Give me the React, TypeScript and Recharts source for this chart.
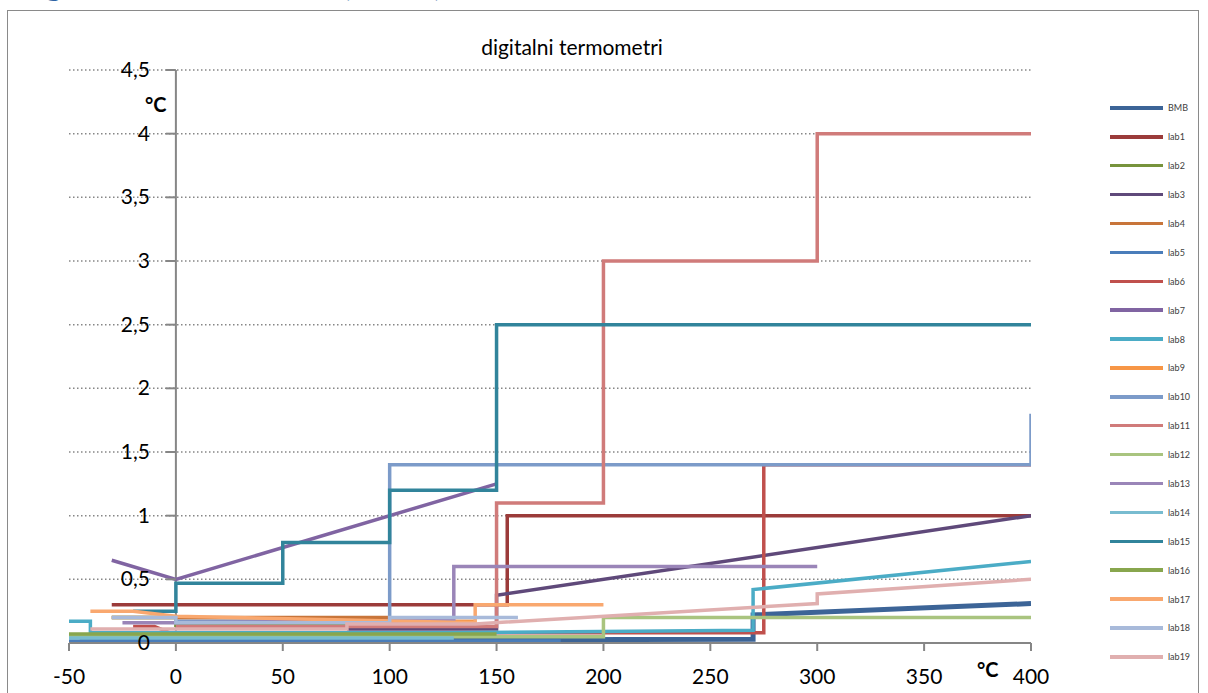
import React from 'react';
import { LineChart, Line, XAxis, YAxis, CartesianGrid, ReferenceLine } from 'recharts';

type P = [number, number];

const xTicks = [-50, 0, 50, 100, 150, 200, 250, 300, 350, 400];
const yTicks = [0, 0.5, 1, 1.5, 2, 2.5, 3, 3.5, 4, 4.5];

const seriesNames = ['BMB', 'lab1', 'lab2', 'lab3', 'lab4', 'lab5', 'lab6', 'lab7', 'lab8', 'lab9',
  'lab10', 'lab11', 'lab12', 'lab13', 'lab14', 'lab15', 'lab16', 'lab17', 'lab18', 'lab19'];

const seriesColors = ['#3C6497', '#9B3B3A', '#77933C', '#5F497A', '#C8753A', '#4A7DBA', '#C0504D', '#8064A2',
  '#4BACC6', '#F79646', '#7C9BC9', '#D07B7A', '#A9C47F', '#9A85B8', '#78BCD0', '#31849B', '#88A64E',
  '#F9A86F', '#A8BADA', '#E0AFAF'];

const bmb: P[] = [[-45, 0.02], [270, 0.03], [270, 0.22], [400, 0.31]];
const lab1: P[] = [[-30, 0.3], [155, 0.3], [155, 1], [400, 1]];
const lab2: P[] = [[-30, 0.2], [0, 0.2], [0, 0.14], [80, 0.14]];
const lab3: P[] = [[80, 0.11], [150, 0.11], [150, 0.375], [400, 1]];
const lab4: P[] = [[-30, 0.2], [100, 0.2]];
const lab5: P[] = [[-50, 0.015], [180, 0.015]];
const lab6: P[] = [[-20, 0.13], [-10, 0.13], [0, 0.06], [100, 0.08], [275, 0.08], [275, 1.4], [400, 1.4]];
const lab7: P[] = [[-30, 0.65], [0, 0.5], [150, 1.25]];
const lab8: P[] = [[-50, 0.17], [-40, 0.17], [-40, 0.08], [130, 0.08], [270, 0.1], [270, 0.42], [400, 0.64]];
const lab9: P[] = [[0, 0.17], [140, 0.17]];
const lab10: P[] = [[0, 0.17], [100, 0.17], [100, 1.4], [400, 1.4], [400, 1.8]];
const lab11: P[] = [[0, 0.13], [150, 0.13], [150, 1.1], [200, 1.1], [200, 3], [300, 3], [300, 4], [400, 4]];
const lab12: P[] = [[-50, 0.05], [200, 0.05], [200, 0.2], [400, 0.2]];
const lab13: P[] = [[-25, 0.16], [0, 0.16], [130, 0.18], [130, 0.6], [300, 0.6]];
const lab14: P[] = [[-50, 0.04], [130, 0.04]];
const lab15: P[] = [[-20, 0.25], [0, 0.25], [0, 0.47], [50, 0.47], [50, 0.79], [100, 0.79], [100, 1.2], [150, 1.2], [150, 2.5], [400, 2.5]];
const lab16: P[] = [[-50, 0.07], [150, 0.07]];
const lab17: P[] = [[-40, 0.25], [-20, 0.25], [0, 0.21], [140, 0.16], [140, 0.3], [200, 0.3]];
const lab18: P[] = [[-30, 0.2], [0, 0.2], [0, 0.16], [100, 0.16], [100, 0.2], [160, 0.2]];
const lab19: P[] = [[-40, 0.11], [80, 0.11], [80, 0.15], [140, 0.15], [300, 0.31], [300, 0.385], [400, 0.5]];

const seriesData: P[][] = [bmb, lab1, lab2, lab3, lab4, lab5, lab6, lab7, lab8, lab9, lab10, lab11, lab12,
  lab13, lab14, lab15, lab16, lab17, lab18, lab19];

const W = 1208;
const H = 693;
const YW = 69;
const M = { top: 70, right: 177, bottom: 0, left: 0 };
const XDOM: [number, number] = [-50, 400];
const YDOM: [number, number] = [0, 4.5];
const plotW = W - YW - M.right;
const x0px = YW + (plotW * (0 - XDOM[0])) / (XDOM[1] - XDOM[0]);

const FONT = 'Lato, "Open Sans", sans-serif';
const AXIS = '#868686';

const fmt = (v: number) => String(v).replace('.', ',');

const YTick = (props: any) => {
  const { y, payload } = props;
  return (
    <g>
      <line x1={x0px - 10} x2={x0px} y1={y} y2={y} stroke={AXIS} strokeWidth={2} />
      <text x={x0px - 26} y={y} dy={7} textAnchor="end" fontSize={21} fontFamily={FONT} fill="#000">
        {fmt(payload.value)}
      </text>
    </g>
  );
};

const XTick = (props: any) => {
  const { x, payload } = props;
  return (
    <text x={x} y={684} textAnchor="middle" fontSize={21} fontFamily={FONT} fill="#000">
      {fmt(payload.value)}
    </text>
  );
};

export default function App() {
  const series = seriesNames.map((name, i) => ({
    name,
    color: seriesColors[i],
    data: seriesData[i].map(([x, y]) => ({ x, y })),
  }));
  return (
    <div style={{ position: 'absolute', left: 0, top: 0, width: W, height: H, overflow: 'hidden', background: '#fff' }}>
      <svg style={{ position: 'absolute', left: 0, top: 0 }} width={W} height={20}>
        <text x={8} y={-5} fontFamily={FONT} fontWeight={700} fontSize={36} fill="#2E64A4">
          Digitalni termometri (BMB)
        </text>
      </svg>
      <div
        style={{
          position: 'absolute', left: 7, top: 10, width: 1192, height: 700,
          border: '1.5px solid #8a8a8a', boxSizing: 'border-box',
        }}
      />
      <div style={{ position: 'absolute', left: 0, top: 0 }}>
        <LineChart width={W} height={H} margin={M}>
          <CartesianGrid vertical={false} horizontal stroke={AXIS} strokeWidth={1.5} strokeDasharray="1.5 2.5" />
          <XAxis
            type="number"
            dataKey="x"
            domain={XDOM}
            ticks={xTicks}
            allowDataOverflow
            height={50}
            tickSize={8}
            axisLine={{ stroke: AXIS, strokeWidth: 2 }}
            tickLine={{ stroke: AXIS, strokeWidth: 2 }}
            tick={<XTick />}
            interval={0}
          />
          <YAxis
            type="number"
            dataKey="y"
            domain={YDOM}
            ticks={yTicks}
            allowDataOverflow
            width={YW}
            axisLine={false}
            tickLine={false}
            tick={<YTick />}
            interval={0}
          />
          <ReferenceLine x={0} stroke={AXIS} strokeWidth={2} />
          {series.map((s, i) => (
            <Line
              key={s.name}
              data={s.data}
              dataKey="y"
              name={s.name}
              type="linear"
              stroke={s.color}
              strokeWidth={i === 0 ? 5 : 3.5}
              dot={false}
              activeDot={false}
              isAnimationActive={false}
              strokeLinejoin="miter"
            />
          ))}
          <text x={572} y={55} textAnchor="middle" fontSize={21} fontFamily={FONT} fill="#000">
            digitalni termometri
          </text>
          <text x={145} y={112} fontSize={20} fontWeight={700} fontFamily={FONT} fill="#000">°C</text>
          <text x={977} y={677} fontSize={20} fontWeight={700} fontFamily={FONT} fill="#000">°C</text>
        </LineChart>
      </div>
      <div style={{ position: 'absolute', left: 1110, top: 108 - 14.5, width: 90 }}>
        {series.map((s) => (
          <div key={s.name} style={{ height: 28.9, display: 'flex', alignItems: 'center' }}>
            <div style={{ width: 53, height: 3.5, background: s.color }} />
            <span style={{ marginLeft: 5, fontSize: 9, fontFamily: FONT, color: '#404040' }}>{s.name}</span>
          </div>
        ))}
      </div>
    </div>
  );
}
